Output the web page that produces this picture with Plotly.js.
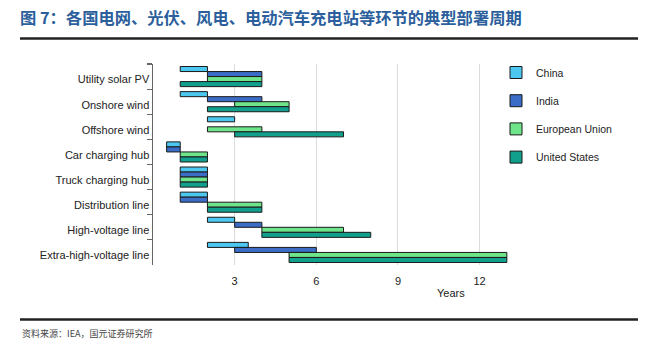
<!DOCTYPE html>
<html>
<head>
<meta charset="utf-8">
<script src="https://cdn.plot.ly/plotly-3.0.1.min.js"></script>
<style>html,body{margin:0;padding:0;background:#fff;}#chart{width:660px;height:353px;}</style>
</head>
<body>
<div id="chart"></div>
<script>
const categories = ["Utility solar PV","Onshore wind","Offshore wind","Car charging hub","Truck charging hub","Distribution line","High-voltage line","Extra-high-voltage line"];
const chinaStart = [1, 1, 2, 0.5, 1, 1, 2, 2];
const chinaEnd   = [2, 2, 3, 1,   2, 2, 3, 3.5];
const indiaStart = [2, 2, null, 0.5, 1, 1, 3, 3];
const indiaEnd   = [4, 4, null, 1,   2, 2, 4, 6];
const euStart    = [2, 3, 2, 1, 1, 2, 4, 5];
const euEnd      = [4, 5, 4, 2, 2, 4, 7, 13];
const usStart    = [1, 2, 3, 1, 1, 2, 4, 5];
const usEnd      = [4, 5, 7, 2, 2, 4, 8, 13];
const seriesNames = ["China","India","European Union","United States"];
const colors = ["#4cc8f0","#3b6cc6","#6ee58a","#10a08c"];

const starts = [chinaStart, indiaStart, euStart, usStart];
const ends = [chinaEnd, indiaEnd, euEnd, usEnd];

const traces = seriesNames.map((name, i) => ({
  type: 'bar',
  orientation: 'h',
  name: name,
  legendgroup: name,
  y: categories,
  base: starts[i],
  x: ends[i].map((e, k) => (e === null || starts[i][k] === null) ? null : e - starts[i][k]),
  marker: {color: colors[i], line: {color: '#1a1a1a', width: 1}},
  hoverinfo: 'skip'
}));

const W = 660, H = 353;
const L = 153, R = 145, T = 64, B = 88;
const pw = W - L - R, ph = H - T - B;
const px = v => (v - L) / pw;
const py = v => (H - B - v) / ph;

const layout = {
  width: W, height: H,
  margin: {l: L, r: R, t: T, b: B, pad: 0},
  paper_bgcolor: '#fff', plot_bgcolor: '#fff',
  font: {family: '"Liberation Sans", Arial, sans-serif', size: 11, color: '#222'},
  barmode: 'group',
  bargap: 0.2,
  bargroupgap: 0,
  showlegend: true,
  legend: {
    x: px(496), y: py(58), xanchor: 'left', yanchor: 'top',
    font: {size: 10.5, color: '#222'},
    tracegroupgap: 9.2,
    itemwidth: 30,
    bgcolor: 'rgba(0,0,0,0)'
  },
  title: {
    text: '<b>图 7：各国电网、光伏、风电、电动汽车充电站等环节的典型部署周期</b>',
    x: 20 / W, xanchor: 'left', xref: 'container',
    y: 1 - 18 / H, yanchor: 'middle', yref: 'container',
    font: {family: '"Noto Sans CJK SC", sans-serif', size: 16.3, color: '#2c5f9c'}
  },
  xaxis: {
    range: [0, 13.3],
    tickvals: [3, 6, 9, 12],
    ticktext: ['3', '6', '9', '12'],
    showgrid: true, gridcolor: '#dcdcdc', gridwidth: 1,
    zeroline: false, showline: false,
    ticks: 'outside', ticklen: 6, tickcolor: 'rgba(0,0,0,0)',
    tickfont: {size: 11, color: '#222'},
    fixedrange: true
  },
  yaxis: {
    type: 'category',
    autorange: 'reversed',
    showline: true, linecolor: '#666', linewidth: 1.5,
    ticks: 'outside', tickson: 'boundaries', ticklen: 5, tickcolor: '#666', tickwidth: 1.2,
    ticklabelshift: -3,
    showgrid: false, zeroline: false,
    tickfont: {size: 11, color: '#222'},
    fixedrange: true
  },
  shapes: [
    {type: 'line', xref: 'paper', yref: 'paper', x0: px(20), x1: px(638), y0: py(38.5), y1: py(38.5), line: {color: '#222', width: 2.5}},
    {type: 'line', xref: 'paper', yref: 'paper', x0: px(20), x1: px(638), y0: py(319.5), y1: py(319.5), line: {color: '#222', width: 2.5}}
  ],
  annotations: [
    {text: 'Years', xref: 'paper', yref: 'paper', x: px(451), y: py(293), xanchor: 'center', yanchor: 'middle', showarrow: false, font: {size: 11, color: '#222'}},
    {text: '资料来源：IEA，国元证券研究所', xref: 'paper', yref: 'paper', x: px(20), y: py(333), xanchor: 'left', yanchor: 'middle', showarrow: false, font: {family: '"Noto Sans CJK SC", sans-serif', size: 9, color: '#444'}}
  ]
};

Plotly.newPlot('chart', traces, layout, {displayModeBar: false, staticPlot: true});
</script>
</body>
</html>
